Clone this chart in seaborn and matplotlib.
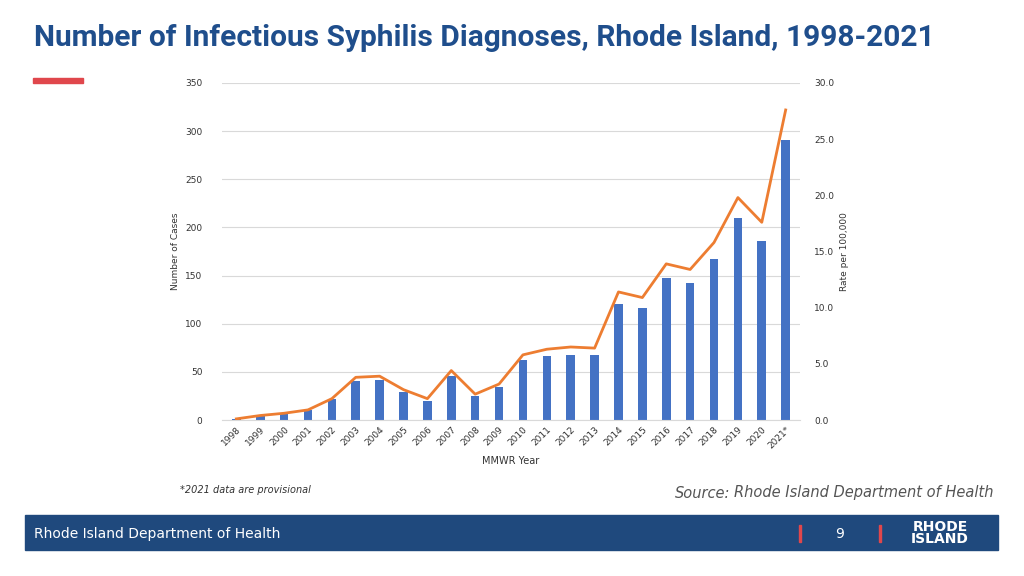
import matplotlib
matplotlib.use("Agg")
import matplotlib.pyplot as plt
import seaborn as sns
import pandas as pd
from matplotlib.patches import Rectangle

years = ["1998","1999","2000","2001","2002","2003","2004","2005","2006","2007","2008","2009",
         "2010","2011","2012","2013","2014","2015","2016","2017","2018","2019","2020","2021*"]
cases = [1,4,6,10,22,40,42,29,20,46,25,34,62,66,68,67,120,116,147,142,167,210,186,291]
rates = [0.1,0.4,0.6,0.9,1.9,3.8,3.9,2.7,1.9,4.4,2.3,3.2,5.8,6.3,6.5,6.4,11.4,10.9,13.9,13.4,15.8,19.8,17.6,27.6]
df = pd.DataFrame({"year": years, "cases": cases, "rate": rates})

fig = plt.figure(figsize=(10.24, 5.76), dpi=100)
fig.patch.set_facecolor("white")
ax = fig.add_axes([222/1024, 1-420/576, (800-222)/1024, (420-83)/576])
sns.barplot(data=df, x="year", y="cases", color="#4472C4", width=0.36, ax=ax, saturation=1)
ax.set_ylim(0, 350)
ax.set_yticks(range(0, 351, 50))
ax.grid(axis="y", color="#D9D9D9", lw=0.8)
ax.set_axisbelow(True)
for s in ax.spines.values():
    s.set_visible(False)
ax.spines["bottom"].set_visible(True); ax.spines["bottom"].set_color("#D9D9D9")
ax.tick_params(length=0, labelsize=6.5, colors="#333333")
ax.tick_params(axis="y", pad=14)
plt.setp(ax.get_xticklabels(), rotation=45, ha="right", rotation_mode="anchor")
ax.set_xlabel("MMWR Year", fontsize=7, color="#333333")
ax.set_ylabel("Number of Cases", fontsize=6.5, color="#333333")
ax.set_xlim(-0.6, len(years)-0.4)

ax2 = ax.twinx()
sns.lineplot(x=list(range(len(years))), y=rates, color="#ED7D31", lw=2, ax=ax2)
ax2.set_ylim(0, 30)
ax2.set_yticks([0,5,10,15,20,25,30])
ax2.set_yticklabels([f"{v:.1f}" for v in [0,5,10,15,20,25,30]])
for s in ax2.spines.values():
    s.set_visible(False)
ax2.tick_params(length=0, labelsize=6.5, colors="#333333", pad=10)
ax2.set_ylabel("Rate per 100,000", fontsize=6.5, color="#333333")

fig.text(34/1024, 1-38/576, "Number of Infectious Syphilis Diagnoses, Rhode Island, 1998-2021",
         fontsize=21.5, fontweight="bold", color="#1F4E8C", va="center", family="Roboto")
fig.add_artist(Rectangle((33/1024, 1-83/576), 50/1024, 5/576, color="#E0474C", transform=fig.transFigure))
fig.text(180/1024, 1-490/576, "*2021 data are provisional", fontsize=7, style="italic", color="#333333", va="center")
t = fig.text(994/1024, 1-493/576, "Rhode Island Department of Health", fontsize=10.5, style="italic",
         color="#555555", ha="right", va="center")
fig.canvas.draw()
bb = t.get_window_extent(fig.canvas.get_renderer())
fig.text((bb.x0 - 4)/1024, 1-493/576, "Source:", fontsize=10.5, style="italic", color="#555555", ha="right", va="center")
fig.add_artist(Rectangle((25/1024, 1-550/576), 973/1024, 35/576, color="#1F497D", transform=fig.transFigure))
fig.text(34/1024, 1-534/576, "Rhode Island Department of Health", fontsize=10, color="white", va="center")
fig.add_artist(Rectangle((799/1024, 1-542/576), 2/1024, 17/576, color="#E0474C", transform=fig.transFigure))
fig.add_artist(Rectangle((879/1024, 1-542/576), 2/1024, 17/576, color="#E0474C", transform=fig.transFigure))
fig.text(840/1024, 1-534/576, "9", fontsize=10, color="white", va="center", ha="center")
fig.text(940/1024, 1-533/576, "RHODE\nISLAND", fontsize=10, fontweight="bold", color="white",
         va="center", ha="center", linespacing=0.85)
fig.savefig("out.png", dpi=100)
